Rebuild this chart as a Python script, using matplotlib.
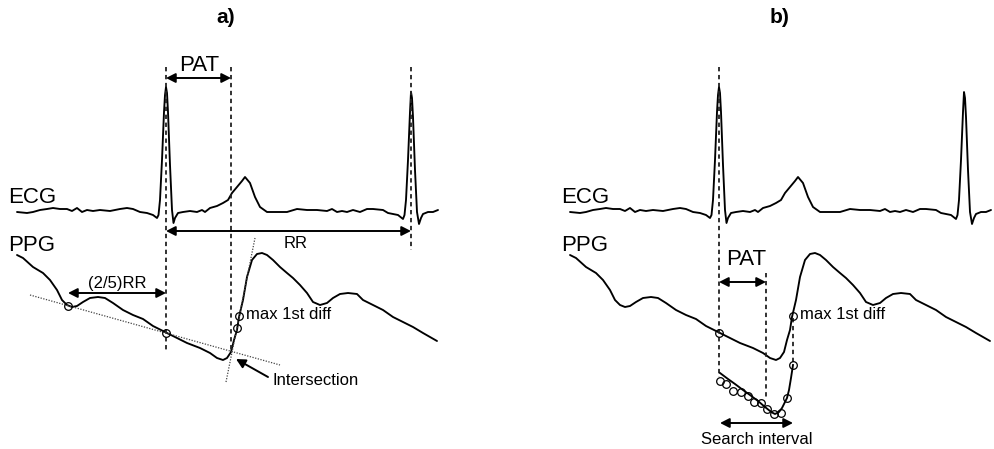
import matplotlib
matplotlib.use("Agg")
import matplotlib.pyplot as plt

plt.rcParams['font.family'] = ['Liberation Sans', 'DejaVu Sans']

# ---- waveform traces (panel pixel frame, y downward) ----
ecg_x = [17, 27, 33, 40, 47, 53, 60, 67, 72, 77, 82, 87, 93, 100, 110, 120, 127, 133, 140, 147,
         153, 157, 158.5, 160, 162, 164, 165, 166, 167, 168, 170, 172, 173.5, 175, 178, 183, 190,
         197, 202, 205, 210, 217, 223, 228, 232, 237, 242, 245, 250, 255, 260, 267, 273, 280, 287,
         297, 307, 317, 327, 332, 337, 342, 347, 353, 360, 367, 373, 383, 388, 393, 398, 403, 404.5,
         406, 408, 410, 411, 412, 413, 415, 417, 419, 421, 423, 428, 433, 438]
ecg_y = [212, 213, 212, 210, 209, 208, 209, 209, 211, 208, 212, 210, 211, 210, 211, 209, 208, 209,
         212, 213, 215, 218, 215, 200, 160, 112, 95, 87, 93, 112, 165, 210, 223, 218, 213, 212, 211,
         212, 210, 212, 208, 206, 203, 200, 193, 187, 181, 177, 183, 197, 207, 212, 212, 212, 212,
         209, 210, 210, 211, 209, 212, 211, 212, 210, 212, 209, 209, 210, 213, 214, 215, 219, 215,
         200, 160, 112, 92, 98, 117, 170, 212, 224, 218, 214, 212, 212, 210]

ppg_x = [17, 23, 33, 43, 50, 57, 62, 67, 72, 77, 83, 90, 98, 105, 113, 123, 133, 143, 153, 167,
         177, 187, 200, 210, 217, 223, 227, 231, 234, 237, 239, 243, 247, 252, 257, 262, 267, 273,
         280, 287, 293, 300, 307, 313, 320, 327, 333, 340, 348, 357, 363, 373, 383, 393, 403, 413,
         423, 437]
ppg_y = [255, 258, 267, 273, 280, 290, 300, 305, 307, 306, 302, 298, 297, 298, 303, 310, 315, 319,
         326, 333, 338, 343, 348, 353, 358, 360, 358, 352, 340, 330, 317, 300, 277, 260, 254, 253,
         255, 260, 267, 273, 278, 285, 293, 302, 305, 303, 298, 294, 293, 294, 300, 305, 310, 317,
         322, 327, 333, 341]

# panel a: marked PPG points and tangent lines
a_marks_x = [68, 166, 237, 239]
a_marks_y = [306, 333, 328, 316]
tan1_x = [30, 280]
tan1_y = [295, 365]
tan2_x = [226, 255]
tan2_y = [382, 238]

# panel b: marked PPG points, fitted curve and search samples
b_marks_x = [166, 240, 240]
b_marks_y = [333, 316, 365]
fit_x = [167, 175, 182, 190, 197, 205, 212, 217, 220, 222, 226, 229, 234, 236, 238, 240]
fit_y = [373, 379, 384, 390, 395, 401, 407, 411, 413, 414, 412, 408, 398, 390, 378, 365]
samp_x = [167, 173, 180, 188, 195, 201, 208, 214, 221, 228, 234]
samp_y = [381, 384, 391, 392, 396, 402, 403, 409, 414, 413, 398]

W, H = 994, 449
PW = 441          # width of each panel in pixels
B_LEFT = 553      # left edge of panel b in pixels

fig = plt.figure(figsize=(W / 100, H / 100), dpi=100)
ax_a = fig.add_axes([0, 0, PW / W, 1])
ax_b = fig.add_axes([B_LEFT / W, 0, PW / W, 1])

LW = 1.35
DASH = dict(color='#222222', lw=1.3, linestyle=(0, (2.4, 2.0)))
MK = dict(marker='o', ms=5.5, mfc='none', mec='black', mew=0.9, ls='none')


def darrow(ax, x1, x2, y, style='<|-|>'):
    ax.annotate('', xy=(x2, y), xytext=(x1, y),
                arrowprops=dict(arrowstyle=style + ',head_length=0.55,head_width=0.28',
                                lw=1.4, color='black', shrinkA=0, shrinkB=0))


for ax in (ax_a, ax_b):
    ax.set_xlim(0, PW)
    ax.set_ylim(H, 0)
    ax.axis('off')
    ax.plot(ecg_x, ecg_y, color='black', lw=LW, solid_joinstyle='round', solid_capstyle='round')
    ax.plot(ppg_x, ppg_y, color='black', lw=LW, solid_joinstyle='round', solid_capstyle='round')
    ax.text(8, 203, 'ECG', fontsize=16, ha='left', va='baseline')
    ax.text(8, 251, 'PPG', fontsize=16, ha='left', va='baseline')

# ---------------- panel a ----------------
ax_a.text(226, 23, 'a)', fontsize=15, fontweight='bold', ha='center', va='baseline')
ax_a.plot([166, 166], [67, 350], **DASH)
ax_a.plot([231, 231], [67, 353], **DASH)
ax_a.plot([411, 411], [67, 250], **DASH)
ax_a.text(199, 71, 'PAT', fontsize=16, ha='center', va='baseline')
darrow(ax_a, 166, 231, 78)
darrow(ax_a, 166, 411, 231)
ax_a.text(296, 248, 'RR', fontsize=12, ha='center', va='baseline')
darrow(ax_a, 68, 166, 293)
ax_a.text(117, 288, '(2/5)RR', fontsize=12, ha='center', va='baseline')
ax_a.plot(tan1_x, tan1_y, color='#444444', lw=0.9, ls=(0, (1, 1.2)))
ax_a.plot(tan2_x, tan2_y, color='#444444', lw=0.9, ls=(0, (1, 1.2)))
ax_a.plot(a_marks_x, a_marks_y, **MK)
ax_a.text(246, 319, 'max 1st diff', fontsize=12, ha='left', va='baseline')
ax_a.annotate('', xy=(236, 359), xytext=(268, 377),
              arrowprops=dict(arrowstyle='-|>,head_length=0.55,head_width=0.28',
                              lw=1.4, color='black', shrinkA=0, shrinkB=0))
ax_a.text(272, 385, 'Intersection', fontsize=12, ha='left', va='baseline')

# ---------------- panel b ----------------
ax_b.text(227, 23, 'b)', fontsize=15, fontweight='bold', ha='center', va='baseline')
ax_b.plot([166, 166], [67, 377], **DASH)
ax_b.plot([213, 213], [273, 400], **DASH)
ax_b.plot([240, 240], [318, 363], **DASH)
ax_b.text(193, 265, 'PAT', fontsize=16, ha='center', va='baseline')
darrow(ax_b, 166, 213, 282)
ax_b.plot(fit_x, fit_y, color='black', lw=LW, solid_joinstyle='round')
ax_b.plot(samp_x, samp_y, **MK)
ax_b.plot(b_marks_x, b_marks_y, **MK)
ax_b.text(247, 319, 'max 1st diff', fontsize=12, ha='left', va='baseline')
darrow(ax_b, 167, 240, 423)
ax_b.text(204, 444, 'Search interval', fontsize=12, ha='center', va='baseline')

fig.savefig('out.png', dpi=100, facecolor='white')
